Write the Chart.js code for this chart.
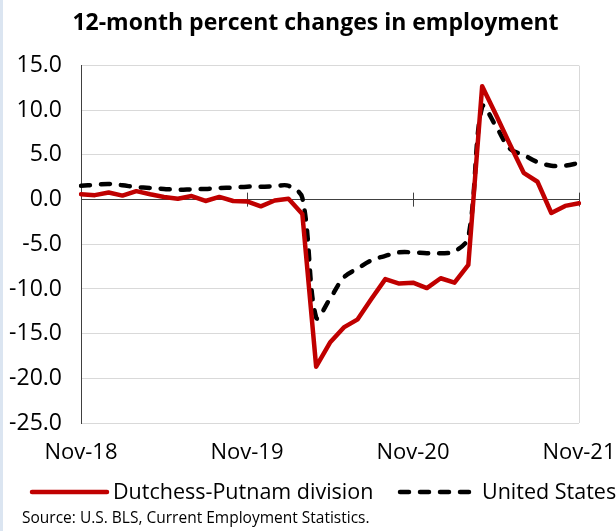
<!DOCTYPE html>
<html>
<head>
<meta charset="utf-8">
<title>12-month percent changes in employment</title>
<script src="https://cdn.jsdelivr.net/npm/chart.js@4/dist/chart.umd.min.js"></script>
<style>
  html, body { margin: 0; padding: 0; background: #ffffff; }
  #wrap { width: 616px; height: 531px; }
</style>
</head>
<body>
<div id="wrap"><canvas id="employment-chart" width="616" height="531"></canvas></div>
<script>
// Month labels, Nov-18 .. Nov-21
const monthLabels = [
  'Nov-18', 'Dec-18', 'Jan-19', 'Feb-19', 'Mar-19', 'Apr-19', 'May-19', 'Jun-19', 'Jul-19', 'Aug-19', 'Sep-19', 'Oct-19',
  'Nov-19', 'Dec-19', 'Jan-20', 'Feb-20', 'Mar-20', 'Apr-20', 'May-20', 'Jun-20', 'Jul-20', 'Aug-20', 'Sep-20', 'Oct-20',
  'Nov-20', 'Dec-20', 'Jan-21', 'Feb-21', 'Mar-21', 'Apr-21', 'May-21', 'Jun-21', 'Jul-21', 'Aug-21', 'Sep-21', 'Oct-21',
  'Nov-21'
];

// Dutchess-Putnam division, 12-month % change
const dutchessPutnam = [
  0.6, 0.5, 0.8, 0.45, 0.95, 0.6, 0.3, 0.1, 0.4, -0.15, 0.3, -0.15,
  -0.2, -0.75, -0.1, 0.1, -1.6, -18.7, -16.0, -14.3, -13.4, -11.1, -8.9, -9.4,
  -9.3, -9.9, -8.8, -9.3, -7.3, 12.7, 9.5, 6.2, 3.0, 2.0, -1.5, -0.7,
  -0.4
];

// United States, 12-month % change
const unitedStates = [
  1.55, 1.65, 1.75, 1.6, 1.4, 1.3, 1.2, 1.1, 1.15, 1.2, 1.3, 1.35,
  1.45, 1.45, 1.5, 1.55, 0.2, -13.2, -11.1, -8.7, -7.7, -6.8, -6.3, -5.9,
  -5.9, -6.0, -6.0, -5.8, -4.2, 10.4, 8.2, 5.7, 5.0, 4.2, 3.8, 3.8,
  4.1
];

const yTickMin = -25;
const yTickMax = 15;
const yTickStep = 5;
const yearTickEvery = 12;

const titleText = '12-month percent changes in employment';
const sourceText = 'Source: U.S. BLS, Current Employment Statistics.';

const FONT = "'Open Sans', sans-serif";
Chart.defaults.font.family = FONT;
Chart.defaults.color = '#000000';

// light blue strip on the left edge, year tick marks on the zero line,
// and the legend + source line underneath
const decorations = {
  id: 'decorations',
  beforeDraw(chart) {
    const ctx = chart.ctx;
    ctx.save();
    ctx.fillStyle = '#dbe5f1';
    ctx.fillRect(0, 0, 3, chart.height);
    ctx.restore();
  },
  beforeDatasetsDraw(chart) {
    const ctx = chart.ctx;
    const x = chart.scales.x;
    const y0 = chart.scales.y.getPixelForValue(0);
    ctx.save();
    ctx.strokeStyle = '#404040';
    ctx.lineWidth = 1;
    for (let i = yearTickEvery; i < monthLabels.length; i += yearTickEvery) {
      const px = Math.round(x.getPixelForValue(i)) + 0.5;
      ctx.beginPath();
      ctx.moveTo(px, y0 - 7);
      ctx.lineTo(px, y0 + 7);
      ctx.stroke();
    }
    ctx.restore();
  },
  afterDraw(chart) {
    const ctx = chart.ctx;
    const ds = chart.data.datasets;
    const legendY = 492;
    const items = [
      { ds: ds[0], x0: 32, x1: 107, tx: 113 },
      { ds: ds[1], x0: 400, x1: 478, tx: 482 }
    ];
    ctx.save();
    ctx.font = '21.5px ' + FONT;
    ctx.textBaseline = 'middle';
    ctx.textAlign = 'left';
    items.forEach(it => {
      ctx.beginPath();
      ctx.strokeStyle = it.ds.borderColor;
      ctx.lineWidth = it.ds.borderWidth;
      ctx.lineCap = 'round';
      ctx.setLineDash(it.ds.borderDash || []);
      ctx.moveTo(it.x0, legendY);
      ctx.lineTo(it.x1, legendY);
      ctx.stroke();
      ctx.setLineDash([]);
      ctx.fillStyle = '#000000';
      ctx.fillText(it.ds.label, it.tx, legendY + 1);
    });
    ctx.font = '15.5px ' + FONT;
    ctx.fillText(sourceText, 22, 519);
    ctx.restore();
  }
};

const ctx = document.getElementById('employment-chart').getContext('2d');
new Chart(ctx, {
  type: 'line',
  data: {
    labels: monthLabels,
    datasets: [{
      label: 'Dutchess-Putnam division',
      data: dutchessPutnam,
      borderColor: '#c00000',
      backgroundColor: '#c00000',
      borderWidth: 4.5,
      borderCapStyle: 'round',
      borderJoinStyle: 'round',
      pointRadius: 0,
      tension: 0,
      fill: false
    }, {
      label: 'United States',
      data: unitedStates,
      borderColor: '#000000',
      backgroundColor: '#000000',
      borderWidth: 4.5,
      borderDash: [9, 11],
      borderCapStyle: 'round',
      borderJoinStyle: 'round',
      pointRadius: 0,
      tension: 0.35,
      fill: false
    }]
  },
  options: {
    responsive: false,
    animation: false,
    layout: {
      // uneven left/right so the title sits where the original's does
      padding: { left: 8, right: -7, top: 0, bottom: 65 }
    },
    plugins: {
      title: {
        display: true,
        text: titleText,
        color: '#000000',
        font: { size: 23, weight: 'bold' },
        padding: { top: 10, bottom: 28 }
      },
      legend: { display: false },
      tooltip: { enabled: false }
    },
    scales: {
      x: {
        offset: false,
        grid: {
          drawTicks: false,
          color: c => (c.index === monthLabels.length - 1 ? '#d9d9d9' : 'rgba(0,0,0,0)')
        },
        border: { display: false },
        ticks: {
          autoSkip: false,
          maxRotation: 0,
          minRotation: 0,
          padding: 17,
          color: '#000000',
          font: { size: 22 },
          callback: (v, i) => (i % yearTickEvery === 0 ? monthLabels[i] : '')
        },
        afterFit: s => {
          s.height = 43;
          s.paddingRight = 37;
        }
      },
      y: {
        min: yTickMin,
        max: yTickMax,
        grid: {
          drawTicks: false,
          color: c => (c.tick && c.tick.value === 0 ? '#404040' : '#d9d9d9')
        },
        border: { display: true, color: '#404040', width: 1 },
        ticks: {
          stepSize: yTickStep,
          padding: 19,
          color: '#000000',
          font: { size: 23 },
          callback: v => v.toFixed(1)
        },
        afterFit: s => { s.width = 73; }
      }
    }
  },
  plugins: [decorations]
});
</script>
</body>
</html>
